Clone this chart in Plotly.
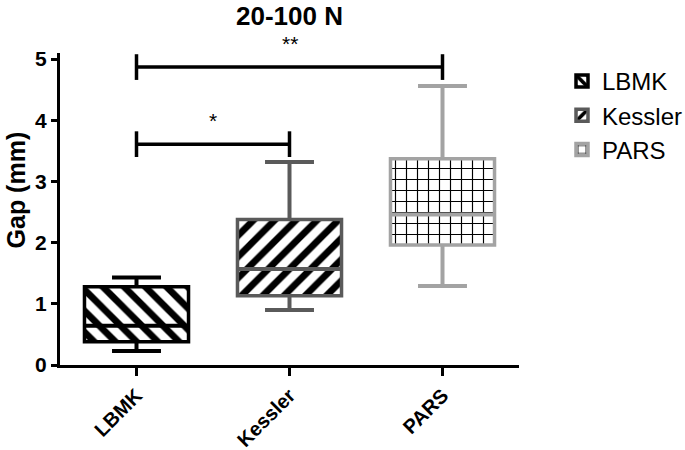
import plotly.graph_objects as go

# ---- data ----
groups = ["LBMK", "Kessler", "PARS"]
lower_whisker = [0.23, 0.90, 1.29]
q1_values = [0.38, 1.13, 1.96]
median_values = [0.64, 1.57, 2.46]
q3_values = [1.28, 2.38, 3.37]
upper_whisker = [1.43, 3.32, 4.56]

# significance brackets: (from group index, to group index, height, label)
bracket_from = [0, 0]
bracket_to = [2, 1]
bracket_height = [4.87, 3.61]
bracket_label = ["**", "*"]

y_ticks = [0, 1, 2, 3, 4, 5]

# ---- styles ----
outline_colors = ["#000000", "#5a5a5a", "#a3a3a3"]
pattern_shapes = ["\\", "/", "+"]
pattern_sizes = [15, 15, 11]
pattern_solidity = [0.45, 0.45, 0.2]
BOX_W = 0.68
CAP_HALF = 0.16
TICK_HALF = 0.21
FONT = "Liberation Sans"

fig = go.Figure()

for i, g in enumerate(groups):
    fig.add_trace(go.Bar(
        x=[i], y=[q3_values[i] - q1_values[i]], base=[q1_values[i]],
        width=BOX_W, name=g, legendgroup=g,
        marker=dict(
            color="white",
            line=dict(color=outline_colors[i], width=3.5),
            pattern=dict(shape=pattern_shapes[i], fgcolor="black", bgcolor="white",
                         size=pattern_sizes[i], solidity=pattern_solidity[i],
                         fillmode="replace"),
        ),
        hoverinfo="skip",
    ))

for i, g in enumerate(groups):
    half = BOX_W / 2
    xs = [i, i, None, i - CAP_HALF, i + CAP_HALF, None,
          i, i, None, i - CAP_HALF, i + CAP_HALF, None,
          i - half, i + half]
    ys = [q3_values[i], upper_whisker[i], None, upper_whisker[i], upper_whisker[i], None,
          q1_values[i], lower_whisker[i], None, lower_whisker[i], lower_whisker[i], None,
          median_values[i], median_values[i]]
    fig.add_trace(go.Scatter(
        x=xs, y=ys, mode="lines", line=dict(color=outline_colors[i], width=4),
        showlegend=False, legendgroup=g, hoverinfo="skip",
    ))

for a, b, h, lab in zip(bracket_from, bracket_to, bracket_height, bracket_label):
    fig.add_trace(go.Scatter(
        x=[a, a, None, a, b, None, b, b],
        y=[h - TICK_HALF, h + TICK_HALF, None, h, h, None, h - TICK_HALF, h + TICK_HALF],
        mode="lines", line=dict(color="black", width=3.5),
        showlegend=False, hoverinfo="skip",
    ))
    fig.add_annotation(x=(a + b) / 2, y=h, yshift=24, text=lab, showarrow=False,
                       font=dict(family=FONT, size=21, color="black"),
                       xanchor="center", yanchor="middle")

fig.add_annotation(text="Gap (mm)", textangle=-90, xref="paper", yref="paper",
                   x=-0.097, y=0.561, xanchor="center", yanchor="middle", showarrow=False,
                   font=dict(family=FONT, size=25, color="black", weight="bold"))

fig.update_layout(
    width=685, height=450,
    margin=dict(l=60, r=166, t=53, b=85, autoexpand=False),
    paper_bgcolor="white", plot_bgcolor="white",
    title=dict(text="20-100 N", x=0.5, xref="paper", y=1 - 16 / 450, yref="container",
               xanchor="center", yanchor="middle",
               font=dict(family=FONT, size=26, color="black", weight="bold")),
    showlegend=True,
    legend=dict(x=562 / 685, y=1 - 59 / 450, xref="container", yref="container",
                xanchor="left", yanchor="top",
                font=dict(family=FONT, size=24, color="black"),
                tracegroupgap=0, bgcolor="rgba(0,0,0,0)"),
    barmode="overlay",
    font=dict(family=FONT, color="black"),
)

fig.update_xaxes(
    range=[-0.5, 2.5], tickmode="array", tickvals=list(range(len(groups))), ticktext=groups,
    tickangle=-45, tickfont=dict(family=FONT, size=20, color="black", weight="bold"),
    showline=True, linecolor="black", linewidth=3, ticks="outside", ticklen=8, tickwidth=3,
    tickcolor="black", showgrid=False, zeroline=False, automargin=False,
)
fig.update_yaxes(
    range=[0, 5.1], tickmode="array", tickvals=y_ticks,
    tickfont=dict(family=FONT, size=21, color="black", weight="bold"),
    showline=True, linecolor="black", linewidth=3, ticks="outside", ticklen=6, tickwidth=2.5,
    tickcolor="black", showgrid=False, zeroline=False, automargin=False,
)

fig.write_html("out.html", config={"displayModeBar": False},
               post_script="document.body.style.margin='0';")
